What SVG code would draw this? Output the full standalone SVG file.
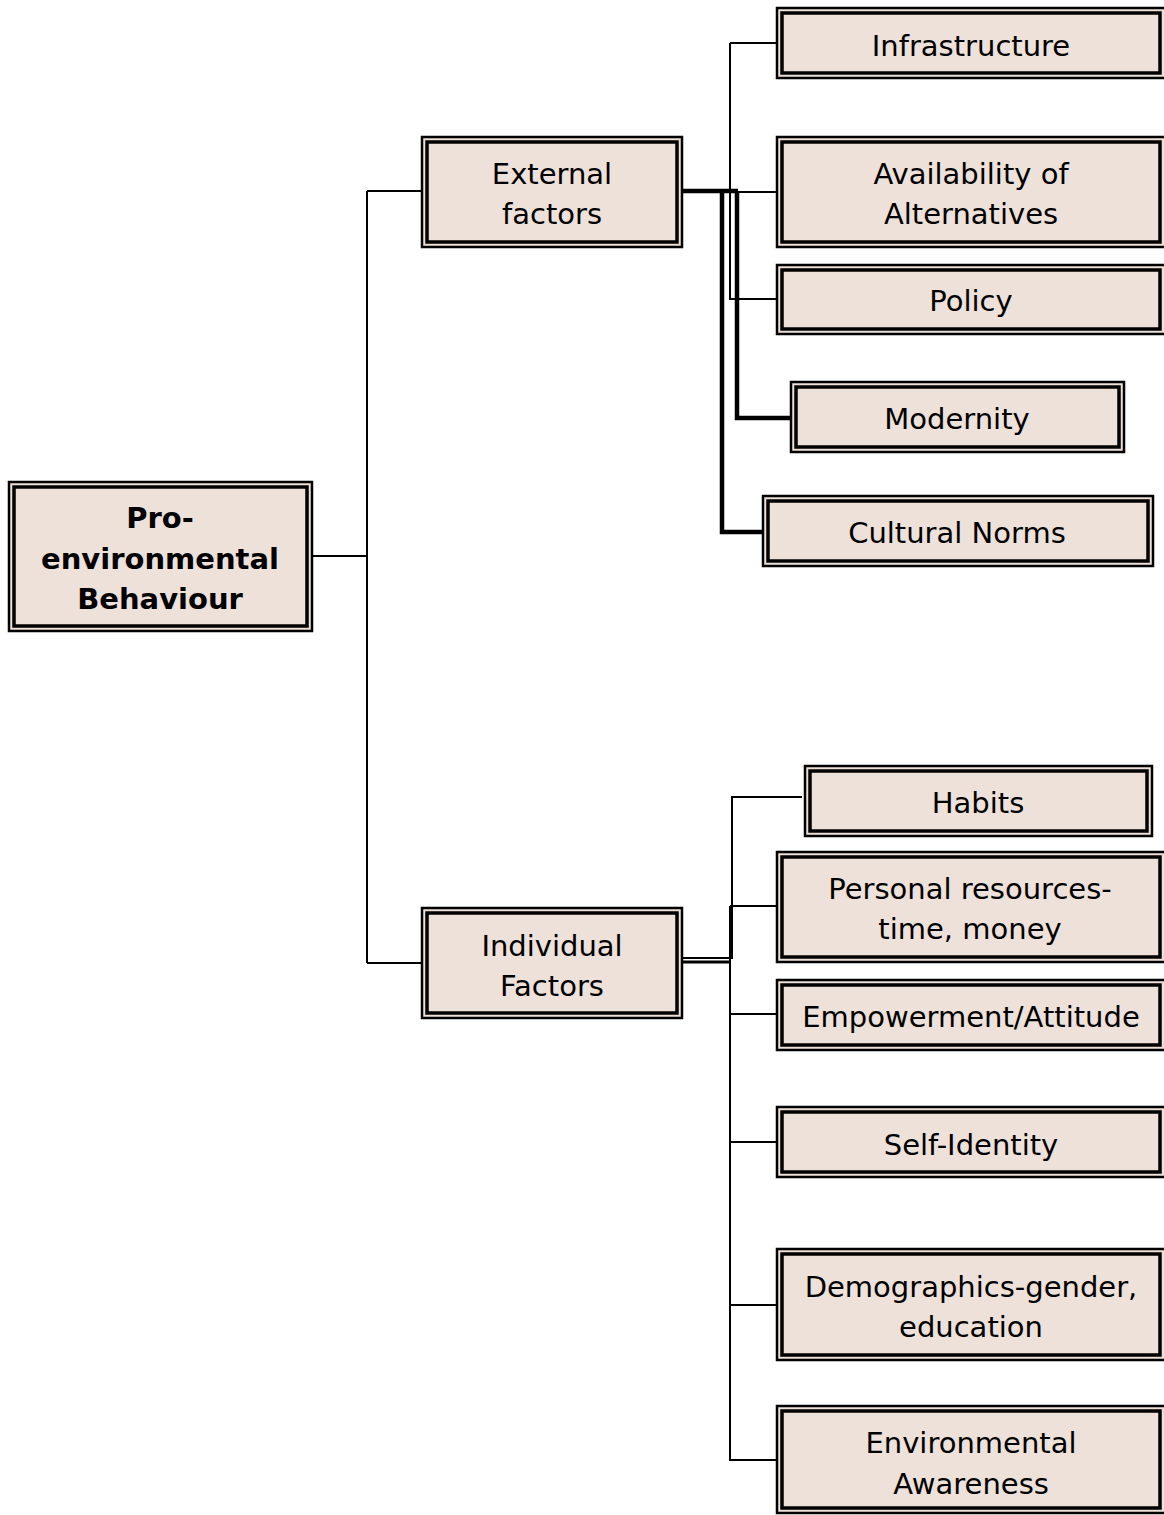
<svg xmlns="http://www.w3.org/2000/svg" width="1164" height="1515" viewBox="0 0 1164 1515">
<style>
.o{fill:#EDE1D9;stroke:#000;stroke-width:2.5}
.i{fill:#EDE1D9;stroke:#000;stroke-width:3.5}
.t{font-family:"DejaVu Sans","Liberation Sans",sans-serif;font-size:29px;fill:#000;text-anchor:middle}
.b{font-weight:bold}
.c{fill:none;stroke:#000;stroke-width:2}
.k{fill:none;stroke:#000;stroke-width:4.5}
</style>
<rect width="1164" height="1515" fill="#fff"/>
<g id="connectors">
<path class="c" d="M312,556 H367 M367,191 V963 M367,191 H422 M367,963 H422"/>
<path class="c" d="M730,43 V299 H777 M730,43 H777 M737,192 H777"/>
<path class="k" d="M682,191 H738 M722,191 V532 H763 M737,191 V418 H791"/>
<path class="c" d="M682,958 H732 V797 H802 M730,906 V1461 M730,906 H777 M730,1014 H777 M730,1142 H777 M730,1305 H777 M730,1460 H777"/>
<path class="c" style="stroke-width:3" d="M682,962 H730"/>
</g>
<g id="root">
<rect class="o" x="9" y="482" width="303" height="149"/>
<rect class="i" x="14" y="487" width="293" height="139"/>
<text class="t b" x="160" y="528">Pro-</text>
<text class="t b" x="160" y="569">environmental</text>
<text class="t b" x="160" y="609">Behaviour</text>
</g>
<g id="external">
<rect class="o" x="422" y="137" width="260" height="110"/>
<rect class="i" x="427" y="142" width="250" height="100"/>
<text class="t" x="552" y="184">External</text>
<text class="t" x="552" y="224">factors</text>
</g>
<g id="individual">
<rect class="o" x="422" y="908" width="260" height="110"/>
<rect class="i" x="427" y="913" width="250" height="100"/>
<text class="t" x="552" y="956">Individual</text>
<text class="t" x="552" y="996">Factors</text>
</g>
<g id="infrastructure">
<rect class="o" x="777" y="8" width="390" height="70"/>
<rect class="i" x="782" y="13" width="378" height="60"/>
<text class="t" x="971" y="56">Infrastructure</text>
</g>
<g id="availability">
<rect class="o" x="777" y="137" width="390" height="110"/>
<rect class="i" x="782" y="142" width="378" height="100"/>
<text class="t" x="971" y="184">Availability of</text>
<text class="t" x="971" y="224">Alternatives</text>
</g>
<g id="policy">
<rect class="o" x="777" y="265" width="390" height="69"/>
<rect class="i" x="782" y="270" width="378" height="59"/>
<text class="t" x="971" y="311">Policy</text>
</g>
<g id="modernity">
<rect class="o" x="791" y="382" width="333" height="70"/>
<rect class="i" x="796" y="387" width="323" height="60"/>
<text class="t" x="957" y="429">Modernity</text>
</g>
<g id="cultural-norms">
<rect class="o" x="763" y="496" width="390" height="70"/>
<rect class="i" x="768" y="501" width="380" height="60"/>
<text class="t" x="957" y="543">Cultural Norms</text>
</g>
<g id="habits">
<rect class="o" x="805" y="766" width="347" height="70"/>
<rect class="i" x="810" y="771" width="337" height="60"/>
<text class="t" x="978" y="813">Habits</text>
</g>
<g id="personal-resources">
<rect class="o" x="777" y="852" width="390" height="110"/>
<rect class="i" x="782" y="857" width="378" height="100"/>
<text class="t" x="970" y="899">Personal resources-</text>
<text class="t" x="970" y="939">time, money</text>
</g>
<g id="empowerment">
<rect class="o" x="777" y="980" width="390" height="70"/>
<rect class="i" x="782" y="985" width="378" height="60"/>
<text class="t" x="971" y="1027">Empowerment/Attitude</text>
</g>
<g id="self-identity">
<rect class="o" x="777" y="1107" width="390" height="70"/>
<rect class="i" x="782" y="1112" width="378" height="60"/>
<text class="t" x="971" y="1155">Self-Identity</text>
</g>
<g id="demographics">
<rect class="o" x="777" y="1249" width="390" height="111"/>
<rect class="i" x="782" y="1254" width="378" height="101"/>
<text class="t" x="971" y="1297">Demographics-gender,</text>
<text class="t" x="971" y="1337">education</text>
</g>
<g id="environmental-awareness">
<rect class="o" x="777" y="1406" width="390" height="107"/>
<rect class="i" x="782" y="1411" width="378" height="97"/>
<text class="t" x="971" y="1453">Environmental</text>
<text class="t" x="971" y="1494">Awareness</text>
</g>
</svg>
